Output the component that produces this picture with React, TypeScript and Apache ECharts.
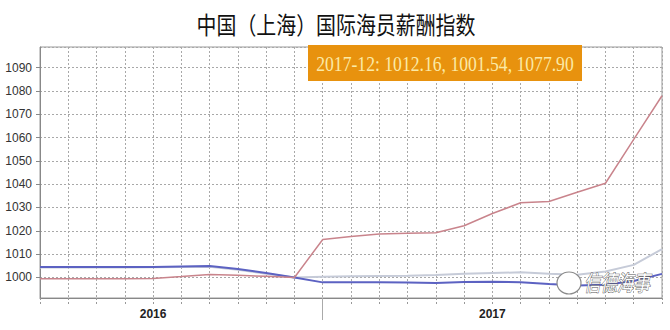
import React, { useEffect, useRef } from "react";
import * as echarts from "echarts";

// Months (values stamped at month end)
const months = [
  "2016-02", "2016-03", "2016-04", "2016-05", "2016-06", "2016-07", "2016-08",
  "2016-09", "2016-10", "2016-11", "2016-12", "2017-01", "2017-02", "2017-03",
  "2017-04", "2017-05", "2017-06", "2017-07", "2017-08", "2017-09", "2017-10",
  "2017-11", "2017-12",
];

const greySeries = [
  1004.3, 1004.3, 1004.3, 1004.3, 1004.4, 1004.5, 1004.6, 1003.3, 1001.6, 1000.0,
  1000.3, 1000.5, 1000.6, 1000.7, 1001.1, 1001.6, 1001.9, 1002.2, 1001.6, 1001.2,
  1002.6, 1005.4, 1012.16,
];

const blueSeries = [
  1004.5, 1004.5, 1004.5, 1004.5, 1004.5, 1004.7, 1004.9, 1003.6, 1001.9, 1000.0,
  997.9, 997.9, 997.9, 997.8, 997.6, 998.1, 998.2, 997.9, 997.2, 996.6,
  996.9, 998.5, 1001.54,
];

const redSeries = [
  999.5, 999.5, 999.5, 999.5, 999.6, 1000.4, 1001.3, 1000.9, 1000.5, 1000.0,
  1016.3, 1017.6, 1018.6, 1019.0, 1019.2, 1022.2, 1027.4, 1032.0, 1032.6, 1036.5,
  1040.4, 1059.2, 1077.9,
];

const yearLabels = [
  { text: "2016", month: "2016-06" },
  { text: "2017", month: "2017-06" },
];
const yearBoundaryMonth = "2016-12";

const titleText = "中国（上海）国际海员薪酬指数";
const watermarkText = "信德海事";

export default function App() {
  const ref = useRef<HTMLDivElement>(null);

  useEffect(() => {
    if (!ref.current) return;
    const chart = echarts.init(ref.current, null, { renderer: "svg" });
    const last = months.length - 1;
    const headerLabel = `${months[last]}: ${greySeries[last].toFixed(2)}, ${blueSeries[last].toFixed(2)}, ${redSeries[last].toFixed(2)}`;
    const toData = (vals: number[]) => vals.map((v, i) => [i, v]);
    const yearIdx = yearLabels.map((y) => months.indexOf(y.month));
    const boundaryIdx = months.indexOf(yearBoundaryMonth);

    const gridLine = { color: "#a8a8a8", type: [2, 2] as number[], width: 1 };
    const labelFont = "'Liberation Sans', Arial, sans-serif";

    chart.setOption({
      animation: false,
      backgroundColor: "#ffffff",
      grid: {
        left: 40,
        right: 8,
        top: 47,
        bottom: 32,
        show: true,
        borderColor: "#9a9a9a",
        borderWidth: 1,
      },
      xAxis: [
        {
          type: "value",
          min: 0,
          max: last,
          interval: 1,
          position: "bottom",
          axisLine: { show: true, lineStyle: { color: "#888" } },
          axisTick: { show: true, length: 6, lineStyle: { color: "#999", type: [2, 2] } },
          axisLabel: { show: false },
          splitLine: { show: true, lineStyle: gridLine },
        },
        {
          type: "value",
          min: 0,
          max: last,
          position: "bottom",
          axisLine: { show: false },
          axisTick: {
            show: true,
            customValues: [boundaryIdx],
            length: 22,
            lineStyle: { color: "#aaa" },
          },
          axisLabel: {
            show: true,
            customValues: yearIdx,
            margin: 10,
            fontSize: 12,
            fontWeight: "bold",
            color: "#222",
            fontFamily: labelFont,
            formatter: (v: number) => {
              const k = yearIdx.indexOf(Math.round(v));
              return k >= 0 ? yearLabels[k].text : "";
            },
          },
          splitLine: { show: false },
        },
      ],
      yAxis: {
        type: "value",
        min: 991.2,
        max: 1098.8,
        splitNumber: 10,
        axisLine: { show: true, lineStyle: { color: "#888" } },
        axisTick: { show: true, length: 4, lineStyle: { color: "#888" } },
        axisLabel: {
          showMinLabel: false,
          showMaxLabel: false,
          fontSize: 12,
          color: "#333",
          margin: 8,
          fontFamily: labelFont,
          formatter: (v: number) => (Math.abs(v % 10) < 1e-6 ? String(v) : ""),
        },
        splitLine: { show: true, lineStyle: gridLine },
      },
      series: [
        {
          type: "line",
          name: "grey",
          data: toData(greySeries),
          xAxisIndex: 0,
          showSymbol: false,
          lineStyle: { color: "#c6cbd8", width: 2 },
          itemStyle: { color: "#c6cbd8" },
          z: 2,
        },
        {
          type: "line",
          name: "blue",
          data: toData(blueSeries),
          xAxisIndex: 0,
          showSymbol: false,
          lineStyle: { color: "#5c62c2", width: 2 },
          itemStyle: { color: "#5c62c2" },
          z: 3,
        },
        {
          type: "line",
          name: "red",
          data: toData(redSeries),
          xAxisIndex: 0,
          showSymbol: false,
          lineStyle: { color: "#c9848c", width: 1.5 },
          itemStyle: { color: "#c9848c" },
          z: 4,
        },
      ],
      graphic: [
        {
          type: "text",
          x: 336,
          y: 23,
          scaleX: 0.83,
          style: {
            text: titleText,
            fill: "#111",
            font: "24px 'Noto Sans CJK SC', sans-serif",
            textAlign: "center",
            textVerticalAlign: "middle",
          },
          z: 100,
        },
        {
          type: "rect",
          shape: { x: 308, y: 45, width: 274, height: 36 },
          style: { fill: "#e8920e" },
          z: 100,
        },
        {
          type: "text",
          x: 445,
          y: 64,
          scaleX: 0.84,
          style: {
            text: headerLabel,
            fill: "#fbeaa6",
            font: "21px 'Liberation Serif', 'DejaVu Serif', serif",
            textAlign: "center",
            textVerticalAlign: "middle",
          },
          z: 101,
        },
        {
          type: "ellipse",
          shape: { cx: 569, cy: 283, rx: 12, ry: 11 },
          style: { fill: "#ffffff", stroke: "#8a8a8a", lineWidth: 1.2 },
          z: 100,
        },
        {
          type: "text",
          x: 617,
          y: 281,
          scaleX: 0.75,
          style: {
            text: watermarkText,
            fill: "#ffffff",
            stroke: "#555",
            lineWidth: 1,
            font: "italic 22px 'Noto Sans CJK SC', sans-serif",
            textAlign: "center",
            textVerticalAlign: "middle",
          },
          z: 100,
        },
      ],
    });
    return () => chart.dispose();
  }, []);

  return (
    <div
      ref={ref}
      style={{ position: "fixed", left: 0, top: 0, width: 670, height: 330, background: "#fff" }}
    />
  );
}
